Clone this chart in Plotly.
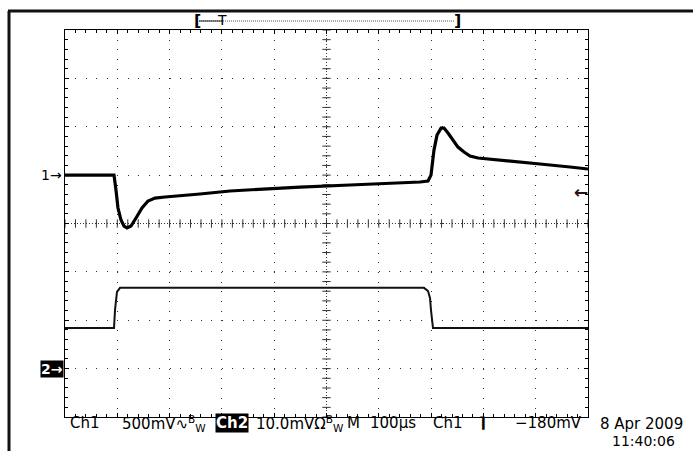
import numpy as np
import plotly.graph_objects as go

W, H = 693, 451
PX_L, PX_R, PX_T, PX_B = 65, 588, 30, 417

# Ch1 trace: time (us) vs volts (500 mV/div, ground one division above centre)
CH1_T = [0, 93.7, 97.5, 101.3, 107.1, 112.8, 118.5, 126.2, 135.8, 147.2, 158.7,
         172.1, 191.2, 219.9, 258.1, 315.5, 372.8, 449.3, 544.9, 640.5, 678.8,
         694.1, 699.8, 705.5, 711.3, 719.0, 724.7, 732.3, 741.9, 751.4, 762.9,
         774.4, 789.7, 812.6, 850.9, 908.2, 965.6, 1000]
CH1_V = [0.0, 0.0, -0.154, -0.34, -0.464, -0.526, -0.546, -0.526, -0.443, -0.34,
         -0.268, -0.237, -0.226, -0.216, -0.195, -0.164, -0.144, -0.123, -0.102,
         -0.082, -0.071, -0.061, 0.0, 0.259, 0.414, 0.486, 0.486, 0.435, 0.362,
         0.29, 0.239, 0.197, 0.177, 0.166, 0.146, 0.115, 0.084, 0.063]

# Ch2 trace: time (us) vs mV (10 mV/div, ground three divisions below centre)
CH2_T = [0, 93.7, 95.6, 99.4, 105.2, 686.4, 694.1, 697.9, 699.8, 701.7, 703.6, 1000]
CH2_MV = [8.4, 8.4, 12.1, 15.85, 16.7, 16.7, 16.05, 14.6, 12.1, 10.1, 8.4, 8.4]

READOUT = [
    ("Ch1", 68),
    ("500mV∿<sup>B</sup><sub>W</sub>", 120),
    ("10.0mVΩ<sup>B</sup><sub>W</sub>", 254),
    ("M", 345),
    ("100µs", 368),
    ("Ch1", 431),
    ("<b>⌉</b>", 477),
]
TRIG_LEVEL = "−180mV"
DATE_TEXT = "8 Apr 2009"
TIME_TEXT = "11:40:06"

FONT = "DejaVu Sans"
DOT = "#333333"


def px(x):
    return (x - PX_L) / (PX_R - PX_L)


def py(y):
    return (PX_B - y) / (PX_B - PX_T)


def label(text, x, y, xanchor="left", size=15, **kw):
    return dict(text=text, x=px(x), y=py(y), xref="paper", yref="paper",
                xanchor=xanchor, yanchor="middle", showarrow=False,
                font=dict(size=size, family=FONT, color=kw.pop("color", "black")), **kw)


fig = go.Figure()

# centre lines with cross ticks
ct = np.arange(0, 1001, 20)
cv = np.arange(-2.5, 1.51, 0.1)
fig.add_trace(go.Scatter(x=ct, y=[-0.5] * len(ct), mode="lines+markers",
                         line=dict(color=DOT, width=1, dash="1px,2px"),
                         marker=dict(symbol="line-ns", size=6, line=dict(color=DOT, width=1)),
                         hoverinfo="skip", showlegend=False))
fig.add_trace(go.Scatter(x=[500] * len(cv), y=cv, mode="lines+markers",
                         line=dict(color=DOT, width=1, dash="1px,2px"),
                         marker=dict(symbol="line-ew", size=6, line=dict(color=DOT, width=1)),
                         hoverinfo="skip", showlegend=False))

fig.add_trace(go.Scatter(x=CH2_T, y=CH2_MV, mode="lines", yaxis="y2",
                         line=dict(color="#111111", width=2), showlegend=False))
fig.add_trace(go.Scatter(x=CH1_T, y=CH1_V, mode="lines",
                         line=dict(color="#000000", width=3.2), showlegend=False))

axis_common = dict(
    showline=True, linecolor="black", linewidth=1, mirror="ticks",
    ticks="inside", ticklen=4, tickcolor="black", showticklabels=False,
    showgrid=True, gridcolor=DOT, gridwidth=1, zeroline=False, fixedrange=True,
)
fig.update_layout(
    width=W, height=H,
    margin=dict(l=PX_L, r=W - PX_R, t=PX_T, b=H - PX_B, autoexpand=False),
    paper_bgcolor="white", plot_bgcolor="white",
    xaxis=dict(range=[0, 1000], dtick=100, tick0=0, griddash="1px,8.68px",
               minor=dict(ticks="inside", ticklen=3, dtick=20, tickcolor="black", showgrid=False),
               **axis_common),
    yaxis=dict(range=[-2.5, 1.5], dtick=0.5, tick0=0, griddash="1px,9.46px",
               minor=dict(ticks="inside", ticklen=3, dtick=0.1, tickcolor="black", showgrid=False),
               **axis_common),
    yaxis2=dict(range=[-10, 70], overlaying="y", visible=False, fixedrange=True),
    font=dict(family=FONT, color="black", size=15),
)

# frame lines of the screen
fig.add_shape(type="line", xref="paper", yref="paper", x0=px(8), x1=px(693),
              y0=py(11), y1=py(11), line=dict(color="#111", width=3))
fig.add_shape(type="line", xref="paper", yref="paper", x0=px(9), x1=px(9),
              y0=py(11), y1=py(451), line=dict(color="#111", width=3))

# record-window bracket
fig.add_shape(type="line", xref="paper", yref="paper", x0=px(199), x1=px(455),
              y0=py(21), y1=py(21), line=dict(color="#555", width=1, dash="1px,1px"))
fig.add_shape(type="line", xref="paper", yref="paper", x0=px(199), x1=px(222),
              y0=py(21), y1=py(21), line=dict(color="#222", width=1))

ann = [
    label("<b>[</b>", 197, 21, "center", 16),
    label("<b>]</b>", 457, 21, "center", 16),
    label("T", 222, 20, "center", 14),
    # channel ground markers
    label("1→", 64, 175, "right", 14),
    label("<b>2→</b>", 64, 369, "right", 14, color="white", bgcolor="black", borderpad=0),
    label("<b>←</b>", 590, 192, "right", 17, color="#2a1010"),
]
# bottom readout
for txt, x in READOUT:
    ann.append(label(txt, x, 423))
ann.append(label("<b>Ch2</b>", 215, 423, color="white", bgcolor="black", borderpad=0))
ann.append(label(TRIG_LEVEL, 584, 423, "right"))
ann.append(label(DATE_TEXT, 641, 424, "center", 15))
ann.append(label(TIME_TEXT, 643, 441, "center", 14))
fig.update_layout(annotations=ann)

fig.write_html("out.html", config={"displayModeBar": False},
               post_script="document.body.style.margin='0';")
